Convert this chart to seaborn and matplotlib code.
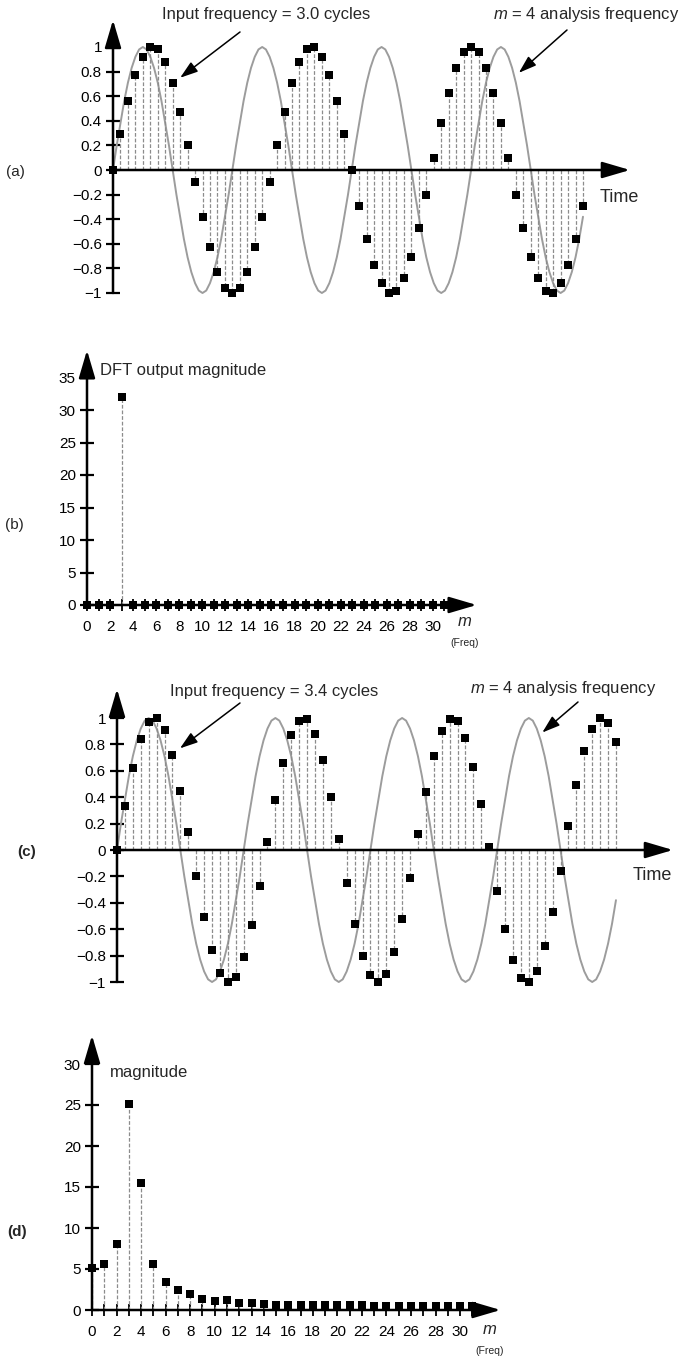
import numpy as np
import pandas as pd
import matplotlib
matplotlib.use("Agg")
import matplotlib.pyplot as plt
import seaborn as sns

# ---- data ----
sample_idx = list(range(64))
bins = list(range(32))

# (a) input: 3.0 cycles over 64 samples
x_a = [0.00, 0.29, 0.56, 0.77, 0.92, 1.00, 0.98, 0.88, 0.71, 0.47, 0.20, -0.10, -0.38, -0.63, -0.83, -0.96,
       -1.00, -0.96, -0.83, -0.63, -0.38, -0.10, 0.20, 0.47, 0.71, 0.88, 0.98, 1.00, 0.92, 0.77, 0.56, 0.29,
       0.00, -0.29, -0.56, -0.77, -0.92, -1.00, -0.98, -0.88, -0.71, -0.47, -0.20, 0.10, 0.38, 0.63, 0.83, 0.96,
       1.00, 0.96, 0.83, 0.63, 0.38, 0.10, -0.20, -0.47, -0.71, -0.88, -0.98, -1.00, -0.92, -0.77, -0.56, -0.29]

# (c) input: 3.4 cycles over 64 samples
x_c = [0.00, 0.33, 0.62, 0.84, 0.97, 1.00, 0.91, 0.72, 0.45, 0.14, -0.20, -0.51, -0.76, -0.93, -1.00, -0.96,
       -0.81, -0.57, -0.27, 0.06, 0.38, 0.66, 0.87, 0.98, 0.99, 0.88, 0.68, 0.40, 0.08, -0.25, -0.56, -0.80,
       -0.95, -1.00, -0.94, -0.77, -0.52, -0.21, 0.12, 0.44, 0.71, 0.90, 0.99, 0.98, 0.85, 0.63, 0.35, 0.02,
       -0.31, -0.60, -0.83, -0.97, -1.00, -0.92, -0.73, -0.47, -0.16, 0.18, 0.49, 0.75, 0.92, 1.00, 0.96, 0.82]

# m = 4 analysis sinusoid, read every half sample (t = 0 ... 63)
analysis_t = [k / 2 for k in range(127)]
analysis_wave = [
    0.00, 0.20, 0.38, 0.56, 0.71, 0.83, 0.92, 0.98, 1.00, 0.98, 0.92, 0.83, 0.71, 0.56, 0.38, 0.20,
    0.00, -0.20, -0.38, -0.56, -0.71, -0.83, -0.92, -0.98, -1.00, -0.98, -0.92, -0.83, -0.71, -0.56, -0.38, -0.20,
    0.00, 0.20, 0.38, 0.56, 0.71, 0.83, 0.92, 0.98, 1.00, 0.98, 0.92, 0.83, 0.71, 0.56, 0.38, 0.20,
    0.00, -0.20, -0.38, -0.56, -0.71, -0.83, -0.92, -0.98, -1.00, -0.98, -0.92, -0.83, -0.71, -0.56, -0.38, -0.20,
    0.00, 0.20, 0.38, 0.56, 0.71, 0.83, 0.92, 0.98, 1.00, 0.98, 0.92, 0.83, 0.71, 0.56, 0.38, 0.20,
    0.00, -0.20, -0.38, -0.56, -0.71, -0.83, -0.92, -0.98, -1.00, -0.98, -0.92, -0.83, -0.71, -0.56, -0.38, -0.20,
    0.00, 0.20, 0.38, 0.56, 0.71, 0.83, 0.92, 0.98, 1.00, 0.98, 0.92, 0.83, 0.71, 0.56, 0.38, 0.20,
    0.00, -0.20, -0.38, -0.56, -0.71, -0.83, -0.92, -0.98, -1.00, -0.98, -0.92, -0.83, -0.71, -0.56, -0.38]

# (b) DFT magnitude for 3.0 cycles
mag_b = [0, 0, 0, 32, 0, 0, 0, 0, 0, 0, 0, 0, 0, 0, 0, 0,
         0, 0, 0, 0, 0, 0, 0, 0, 0, 0, 0, 0, 0, 0, 0, 0]
# (d) DFT magnitude for 3.4 cycles (leakage)
mag_d = [5.1, 5.6, 8.1, 25.1, 15.5, 5.6, 3.4, 2.4, 1.9, 1.4, 1.1, 1.2, 0.9, 0.9, 0.7, 0.6,
         0.6, 0.6, 0.6, 0.6, 0.55, 0.55, 0.55, 0.5, 0.5, 0.5, 0.5, 0.5, 0.5, 0.5, 0.5, 0.5]

time_yticks = [-1, -0.8, -0.6, -0.4, -0.2, 0, 0.2, 0.4, 0.6, 0.8, 1]
time_ylabels = ["\u22121", "\u22120.8", "\u22120.6", "\u22120.4", "\u22120.2", "0", "0.2", "0.4", "0.6", "0.8", "1"]
b_yticks = [0, 5, 10, 15, 20, 25, 30, 35]
d_yticks = [0, 5, 10, 15, 20, 25, 30]
freq_xlabels = [str(m) if m % 2 == 0 else "" for m in bins]

# ---- style ----
sns.set_style("white")
plt.rcParams["font.family"] = ["Liberation Sans", "DejaVu Sans"]
plt.rcParams["mathtext.fontset"] = "custom"
plt.rcParams["mathtext.it"] = "Liberation Sans:italic"
plt.rcParams["mathtext.rm"] = "Liberation Sans"

W, H = 684, 1362
fig = plt.figure(figsize=(W / 100, H / 100), dpi=100)
fig.patch.set_facecolor("white")

STEM = "#8c8c8c"
CURVE = "#9c9c9c"
FS = 11      # tick labels
FT = 12      # annotation text


def make_axes(L, R, T, B, x0, xs, y0, ys):
    # axes box in pixels, plus pixel position of data origin and pixel-per-unit scales
    ax = fig.add_axes([L / W, 1 - B / H, (R - L) / W, (B - T) / H])
    ax.set_xlim((L - x0) / xs, (R - x0) / xs)
    ax.set_ylim((y0 - B) / ys, (y0 - T) / ys)
    ax.patch.set_alpha(0)
    for s in ["top", "right"]:
        ax.spines[s].set_visible(False)
    for s in ["left", "bottom"]:
        ax.spines[s].set_position(("data", 0))
        ax.spines[s].set_visible(False)
    return ax


def axis_arrow(ax, start, end):
    ax.annotate("", xy=end, xytext=start, xycoords="data",
                arrowprops=dict(arrowstyle="-|>,head_length=0.85,head_width=0.25",
                                mutation_scale=20, lw=1.8, color="black",
                                shrinkA=0, shrinkB=0), annotation_clip=False)


def px(x, y):
    return (x / W, 1 - y / H)


def stems(ax, xs, ys):
    ax.vlines(xs, 0, ys, colors=STEM, lw=0.9, linestyles=(0, (3, 1.5)), zorder=2)
    sns.scatterplot(x=xs, y=ys, marker="s", s=32, color="black", linewidth=0,
                    ax=ax, zorder=4, clip_on=False, legend=False)


def time_panel(ax, samples, label_in, x_end, txt_xy, arrow_in, arrow_m, m_xy, time_xy):
    sns.lineplot(x=analysis_t, y=analysis_wave, color=CURVE, lw=1.4, ax=ax, zorder=1)
    stems(ax, sample_idx, samples)
    axis_arrow(ax, (0, -1.0), (0, 1.22))
    axis_arrow(ax, (0, 0), (x_end, 0))
    ax.set_xticks([])
    ax.set_yticks(time_yticks)
    ax.set_yticklabels(time_ylabels)
    ax.tick_params(axis="y", left=True, direction="inout", length=10, width=1.6, pad=3,
                   labelsize=FS, colors="black")
    ax.set_xlabel("")
    ax.set_ylabel("")
    fig.text(*px(*txt_xy), label_in, fontsize=FT, va="center", ha="left")
    fig.text(*px(*m_xy), "$m$ = 4 analysis frequency", fontsize=FT, va="center", ha="left")
    fig.text(*px(*time_xy), "Time", fontsize=13, va="center", ha="left")
    for start, tip in [arrow_in, arrow_m]:
        ax.annotate("", xy=tip, xycoords="data", xytext=px(*start), textcoords="figure fraction",
                    arrowprops=dict(arrowstyle="-|>,head_length=0.6,head_width=0.2",
                                    mutation_scale=18, lw=1.1, color="black",
                                    shrinkA=0, shrinkB=0), annotation_clip=False)


def freq_panel(ax, mags, yticks, x_end, y_end, title, title_xy, m_xy, tick_y):
    stems(ax, bins, mags)
    axis_arrow(ax, (0, 0), (0, y_end))
    axis_arrow(ax, (0, 0), (x_end, 0))
    ax.set_yticks(yticks)
    ax.set_yticklabels([str(v) for v in yticks])
    ax.set_xticks(bins)
    ax.set_xticklabels(freq_xlabels)
    ax.tick_params(axis="y", left=True, direction="inout", length=10, width=1.6, pad=3,
                   labelsize=FS, colors="black")
    ax.tick_params(axis="x", bottom=True, direction="inout", length=8, width=1.3, pad=tick_y,
                   labelsize=FS, colors="black")
    ax.set_xlabel("")
    ax.set_ylabel("")
    fig.text(*px(*title_xy), title, fontsize=FT, va="center", ha="left")
    fig.text(*px(m_xy[0], m_xy[1]), "$m$", fontsize=FT, va="center", ha="center")
    fig.text(*px(m_xy[0], m_xy[1] + 21), "(Freq)", fontsize=7.5, va="center", ha="center")


# (a)
ax_a = make_axes(100, 660, 0, 310, 113, 7.46, 170, 123)
time_panel(ax_a, x_a, "Input frequency = 3.0 cycles", 69.3,
           (162, 15), ((240, 32), (9.0, 0.75)), ((567, 30), (54.4, 0.79)),
           (493, 15), (600, 197))
fig.text(*px(6, 172), "(a)", fontsize=FS, va="center", ha="left")

# (b)
ax_b = make_axes(60, 500, 330, 660, 87, 11.53, 605, 6.5)
freq_panel(ax_b, mag_b, b_yticks, 33.8, 39.2, "DFT output magnitude", (100, 370), (465, 622), 7)
fig.text(*px(5, 525), "(b)", fontsize=FS, va="center", ha="left")

# (c)
ax_c = make_axes(100, 684, 670, 1000, 117, 7.92, 850, 132)
time_panel(ax_c, x_c, "Input frequency = 3.4 cycles", 70.2,
           (170, 692), ((240, 703), (7.95, 0.77)), ((578, 702), (53.7, 0.89)),
           (470, 688), (633, 875))
fig.text(*px(17, 852), "(c)", fontsize=FS, va="center", ha="left", fontweight="bold")

# (d)
ax_d = make_axes(60, 520, 1010, 1362, 92, 12.27, 1310, 8.2)
freq_panel(ax_d, mag_d, d_yticks, 33.3, 33.5, "magnitude", (110, 1073), (490, 1330), 7)
fig.text(*px(7, 1232), "(d)", fontsize=FS, va="center", ha="left", fontweight="bold")

fig.savefig("out.png", dpi=100, facecolor="white")
